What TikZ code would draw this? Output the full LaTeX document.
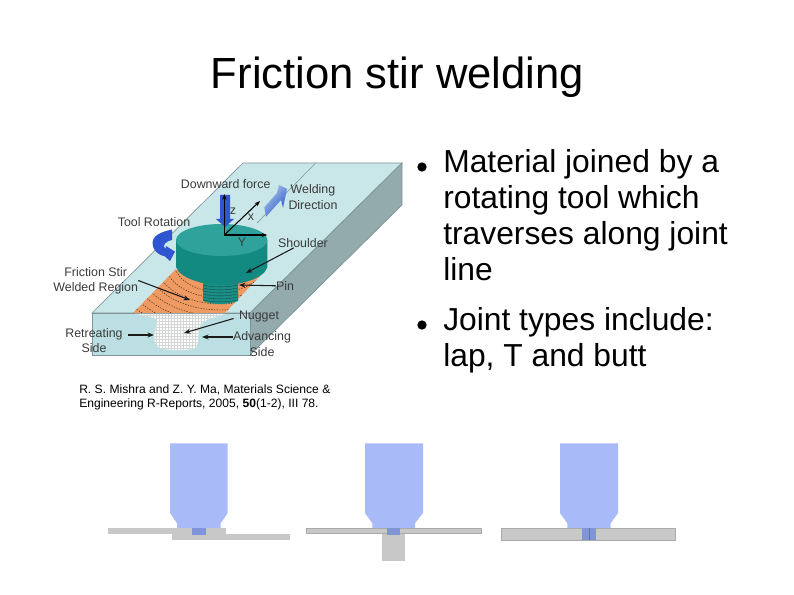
\documentclass[tikz,border=0pt]{standalone}
\usepackage{fontspec}
\setmainfont{Liberation Sans}
\usepackage{tikz}
\usetikzlibrary{arrows.meta,calc}
\definecolor{INK}{HTML}{1A1A1A}
\definecolor{LABEL}{HTML}{3A3A3A}
\definecolor{PLATETOP}{HTML}{C9E6E8}
\definecolor{PLATEFRONT}{HTML}{BBDFE2}
\definecolor{PLATESIDE}{HTML}{93ABAD}
\definecolor{PLATEEDGE}{HTML}{7C9498}
\definecolor{TEALTOP}{HTML}{2FA39B}
\definecolor{TEALSIDE}{HTML}{128A82}
\definecolor{TEALPIN}{HTML}{1B8F86}
\definecolor{WELD}{HTML}{EE9A62}
\definecolor{ARROWBLUE}{HTML}{2F55D0}
\definecolor{TOOL}{HTML}{A8BBF8}
\definecolor{PIN}{HTML}{7F95D8}
\definecolor{SHEET}{HTML}{C8C8C8}

\begin{document}
\begin{tikzpicture}[x=0.75pt,y=-0.75pt]
\tikzset{lbl/.style={font=\fontsize{9.3}{10.5}\selectfont,text=LABEL,inner sep=0pt,align=center},
 lead/.style={-{Stealth[length=1.7mm,width=1.3mm]},line width=0.8pt,INK},
 axisline/.style={-{Stealth[length=1.5mm,width=1.1mm]},line width=0.8pt,black},
 body/.style={font=\fontsize{23.85}{27}\selectfont,text=black,inner sep=0pt,align=left,anchor=north west},
 dotb/.style={circle,fill=black,inner sep=0pt,minimum size=7pt},
 tool/.style={fill=TOOL},pinf/.style={fill=PIN},sheet/.style={fill=SHEET,draw=SHEET!85!black,line width=0.3pt}}
\useasboundingbox (0,0) rectangle (794,595);
% title and bullets
\node[font=\fontsize{32.7}{36}\selectfont,inner sep=0pt] (title) at (397.5,77) {Friction stir welding};
\node[dotb] (dota) at (422,167) {};
\node[dotb] (dotb) at (422,325) {};
\node[body] (texta) at (443,149) {Material joined by a\\rotating tool which\\traverses along joint\\line};
\node[body] (textb) at (443,307) {Joint types include:\\lap, T and butt};
% plate
\fill[PLATETOP,draw=PLATEEDGE,line width=0.5pt] (92,313)--(243,163)--(402,163)--(250,313)--cycle;
\fill[PLATESIDE,draw=PLATEEDGE,line width=0.5pt] (402,163)--(402,205)--(250,355)--(250,313)--cycle;
\fill[PLATEFRONT,draw=PLATEEDGE,line width=0.5pt] (92,313) rectangle (250,355);
\draw[PLATEEDGE,line width=0.4pt] (315.6,163)--(257,223);
% welded region
\begin{scope}
\clip (175,270)--(133,313)--(225,313)--(260,276)--(222,262)--cycle;
\fill[WELD] (120,255) rectangle (270,315);
\foreach \rad in {16,24,...,112}{
\draw[black!75!WELD,line width=0.35pt,dash pattern=on 1pt off 1pt] (220,262) ellipse ({\rad*1.15} and {\rad*0.75});}
\end{scope}
% nugget
\begin{scope}
\clip (135,314) .. controls (150,316) and (160,318) .. (157,324) .. controls (153,335) and (153,345) .. (160,348)
 .. controls (172,351) and (185,351) .. (196,348) .. controls (200,340) and (196,330) .. (202,323) .. controls (208,318) and (218,316) .. (225,314)--cycle;
\fill[white!93!PLATETOP] (130,310) rectangle (230,355);
\foreach \gx in {132,135,...,228}{\draw[black!16,line width=0.25pt] (\gx,310)--(\gx,355);}
\foreach \gy in {312,315,...,354}{\draw[black!16,line width=0.25pt] (130,\gy)--(230,\gy);}
\end{scope}
% pin
\path[fill=TEALPIN] (203,276)--(238,276)--(238,301) .. controls (228,305) and (212,305) .. (203,301)--cycle;
\foreach \yp in {285,288,...,300}{
\draw[black!45!TEALPIN,line width=0.3pt] (203,\yp) .. controls (212,{\yp+2.5}) and (228,{\yp+2.5}) .. (238,\yp);}
% shoulder
\path[fill=TEALSIDE] (176,240)--(176,267) .. controls (180,279) and (205,285) .. (222,285) .. controls (240,285) and (264,279) .. (267.4,267)--(267.4,240)--cycle;
\fill[TEALTOP] (221.7,240) ellipse (45.7 and 16);
% axes and blue arrows
\fill[ARROWBLUE] (220,195)--(230,195)--(230,219)--(234,219)--(225,227)--(216,219)--(220,219)--cycle;
\coordinate (orig) at (224.3,235);
\coordinate (ztip) at (224.3,194);
\coordinate (xtip) at (260,201);
\coordinate (ytip) at (267.3,235);
\draw[axisline] (orig)--(ztip);
\draw[axisline] (orig)--(xtip);
\draw[axisline] (orig)--(ytip);
\node[lbl] (zlbl) at (233,211) {z};
\node[lbl] (xlbl) at (251,217) {x};
\node[lbl] (ylbl) at (242,242) {Y};
\shade[left color=PLATETOP!80!ARROWBLUE,right color=ARROWBLUE,shading angle=50]
 (264.3,207.3)--(266,216.7)--(281,200)--(283,208)--(287,189)--(279,185)--(277,193)--cycle;
\fill[ARROWBLUE] (172,229.5) .. controls (160,232) and (152.5,236) .. (152.5,243.3)
 .. controls (152.5,250) and (158,255) .. (165,256.5)--(170,261)--(175,251.7)--(166,246)--(165.5,249)
 .. controls (163.5,247.5) and (163,245) .. (165,243.5) .. controls (167,241.5) and (169,240.5) .. (172,240)--cycle;
% labels of the sketch
\node[lbl] (forcelbl) at (225.7,183.7) {Downward force};
\node[lbl] (weldlbl) at (313,197) {Welding\\[1pt]Direction};
\node[lbl] (rotlbl) at (154,222) {Tool Rotation};
\node[lbl] (shoulderlbl) at (303,243) {Shoulder};
\node[lbl] (regionlbl) at (95.7,280.5) {Friction Stir\\[1pt]Welded Region};
\node[lbl] (pinlbl) at (285,286) {Pin};
\node[lbl] (nuggetlbl) at (259,317) {Nugget};
\node[lbl] (retlbl) at (94,340.5) {Retreating\\[1pt]Side};
\node[lbl] (advlbl) at (262,344) {Advancing\\[1pt]Side};
\coordinate (shouldertip) at (246,273);
\coordinate (pintip) at (239,285);
\coordinate (regiontip) at (190,300);
\coordinate (nuggettip) at (184,333);
\coordinate (rettip) at (154,335);
\coordinate (advtip) at (202,337);
\draw[lead] (shoulderlbl)--(shouldertip);
\draw[lead] (pinlbl)--(pintip);
\draw[lead] (regionlbl.east)--(regiontip);
\draw[lead,shorten <=4pt] (nuggetlbl.west)--(nuggettip);
\draw[lead,shorten <=4pt] (retlbl.east |- rettip)--(rettip);
\draw[lead] (advlbl.west |- advtip)--(advtip);
% citation
\node[font=\fontsize{9.07}{10.5}\selectfont,inner sep=0pt,align=left,anchor=north west] (citelbl) at (79,384)
 {R. S. Mishra and Z. Y. Ma, Materials Science \&\\Engineering R-Reports, 2005, \textbf{50}(1-2), III 78.};
% lap joint
\fill[SHEET] (108.3,528) rectangle (225.7,534);
\fill[SHEET] (172.3,534) rectangle (290,540);
\fill[tool] (170,443.3)--(227.7,443.3)--(227.7,513)--(220.7,523.3)--(220.7,528)--(177,528)--(177,523.3)--(170,513)--cycle;
\fill[pinf] (192,528) rectangle (206,535.3);
% T joint
\fill[sheet] (306.3,528.3) rectangle (481.3,533.7);
\fill[SHEET] (382.3,533.7) rectangle (404.7,560.7);
\fill[tool] (365,443.3)--(423,443.3)--(423,513)--(415,523.3)--(415,528)--(372.3,528)--(372.3,523.3)--(365,513)--cycle;
\fill[pinf] (387,528.3) rectangle (400,535.3);
% butt joint
\fill[sheet] (501.3,528.3) rectangle (675,540.7);
\fill[tool] (560,443.3)--(618,443.3)--(618,513)--(610.7,523.3)--(610.7,528)--(567.3,528)--(567.3,523.3)--(560,513)--cycle;
\fill[pinf] (582,528.3) rectangle (596,540);
\draw[PIN!75!black,line width=0.3pt] (589.3,528.3)--(589.3,540);
\end{tikzpicture}
\end{document}
